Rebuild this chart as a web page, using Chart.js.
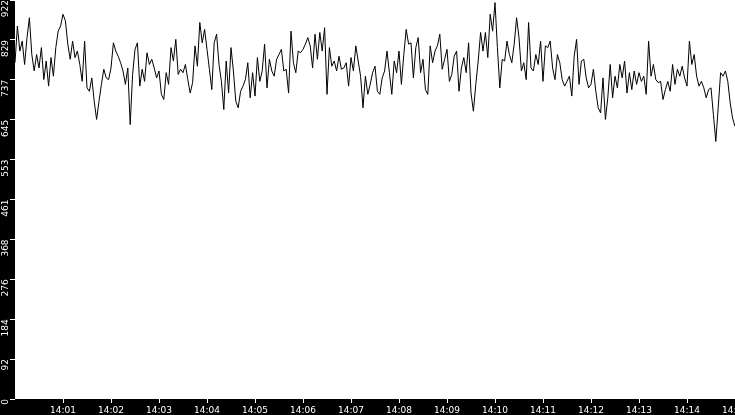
<!DOCTYPE html>
<html>
<head>
<meta charset="utf-8">
<script src="https://cdn.jsdelivr.net/npm/chart.js@4.4.1/dist/chart.umd.min.js"></script>
<style>
html,body{margin:0;padding:0;background:#000;overflow:hidden}
canvas{display:block}
</style>
</head>
<body>
<canvas id="c" width="735" height="415"></canvas>
<script>
// sampling interval of the series, in seconds (series starts at 14:00:00)
const SAMPLE_SECONDS = 3;

const values = [
  777, 862, 804, 827, 773, 835, 881, 796, 758, 796, 765, 812, 738, 781, 723, 789, 746, 812, 850, 862, 889, 874, 820, 785, 827, 789, 804, 773,
  734, 827, 719, 711, 742, 688, 646, 688, 727, 762, 742, 738, 765, 823, 804, 792, 777, 758, 727, 765, 634, 750, 808, 823, 723, 762, 734,
  800, 773, 785, 765, 742, 758, 704, 692, 754, 727, 812, 781, 831, 750, 762, 754, 773, 738, 707, 731, 816, 769, 870, 823, 854, 808, 762,
  715, 823, 843, 773, 734, 669, 781, 707, 812, 758, 688, 673, 711, 723, 738, 777, 696, 754, 700, 789, 734, 758, 820, 719, 785, 758, 746,
  785, 796, 808, 758, 762, 707, 850, 777, 754, 804, 800, 808, 820, 835, 816, 765, 843, 785, 847, 804, 858, 704, 812, 769, 781, 758, 792,
  762, 765, 777, 723, 789, 758, 816, 781, 746, 673, 746, 704, 727, 754, 769, 711, 704, 742, 758, 804, 754, 704, 781, 754, 804, 727, 796,
  854, 820, 823, 742, 812, 835, 754, 785, 715, 704, 816, 777, 804, 816, 843, 762, 785, 808, 734, 750, 792, 804, 711, 765, 789, 754, 823,
  707, 665, 727, 781, 847, 804, 847, 789, 889, 850, 916, 812, 719, 785, 781, 827, 796, 777, 820, 881, 835, 758, 777, 738, 870, 765, 758,
  796, 773, 827, 734, 816, 812, 827, 765, 738, 796, 777, 738, 723, 734, 746, 700, 792, 831, 727, 781, 785, 742, 719, 727, 762, 711, 673,
  661, 742, 646, 696, 773, 696, 746, 719, 773, 742, 781, 707, 754, 715, 758, 727, 754, 734, 746, 704, 827, 746, 773, 738, 731, 734, 692,
  715, 734, 711, 773, 727, 762, 746, 769, 742, 723, 827, 773, 796, 746, 723, 734, 719, 696, 715, 719, 657, 595, 673, 754, 746, 758, 734, 684, 649, 630
];

const xTickSeconds = [60, 120, 180, 240, 300, 360, 420, 480, 540, 600, 660, 720, 780, 840, 900];
const xTickLabels = ['14:01','14:02','14:03','14:04','14:05','14:06','14:07','14:08','14:09','14:10','14:11','14:12','14:13','14:14','14:15'];
const yTickValues = [0, 92.2, 184.4, 276.6, 368.8, 461, 553.2, 645.4, 737.6, 829.8, 922];
const yTickLabels = ['0','92','184','276','368','461','553','645','737','829','922'];

const seconds = values.map((v, i) => i * SAMPLE_SECONDS);

const bgPlugin = {
  id: 'bg',
  beforeDraw(chart) {
    const {ctx, chartArea: a, width, height} = chart;
    ctx.save();
    ctx.fillStyle = '#000';
    ctx.fillRect(0, 0, width, height);
    ctx.fillStyle = '#fff';
    ctx.fillRect(a.left, a.top, a.right - a.left, a.bottom - a.top);
    ctx.restore();
  }
};

const font = {family: '"DejaVu Sans", sans-serif', size: 9};

new Chart(document.getElementById('c'), {
  type: 'line',
  data: {
    labels: seconds,
    datasets: [{
      data: values,
      borderColor: '#000',
      borderWidth: 1,
      pointRadius: 0,
      tension: 0,
      fill: false
    }]
  },
  options: {
    responsive: false,
    animation: false,
    events: [],
    layout: {padding: 0},
    plugins: {legend: {display: false}, title: {display: false}, tooltip: {enabled: false}},
    scales: {
      x: {
        type: 'linear',
        min: 0,
        max: 900,
        afterBuildTicks(s) { s.ticks = xTickSeconds.map(v => ({value: v})); },
        afterFit(s) { s.height = 16; s.paddingLeft = 0; s.paddingRight = 0; },
        ticks: {
          color: '#fff', font, padding: 2, autoSkip: false, minRotation: 0, maxRotation: 0,
          callback: (v, i) => xTickLabels[i]
        },
        grid: {display: true, drawOnChartArea: false, drawTicks: true, tickLength: 4, color: '#fff'},
        border: {display: false}
      },
      y: {
        type: 'linear',
        min: 0,
        max: 922,
        afterBuildTicks(s) { s.ticks = yTickValues.map(v => ({value: v})); },
        afterFit(s) { s.width = 15; s.paddingTop = 0; s.paddingBottom = 0; },
        ticks: {
          color: '#fff', font, padding: 4, autoSkip: false, minRotation: 90, maxRotation: 90,
          callback: (v, i) => yTickLabels[i]
        },
        grid: {display: true, drawOnChartArea: false, drawTicks: true, tickLength: 5, color: '#fff'},
        border: {display: false}
      }
    }
  },
  plugins: [bgPlugin]
});
</script>
</body>
</html>
